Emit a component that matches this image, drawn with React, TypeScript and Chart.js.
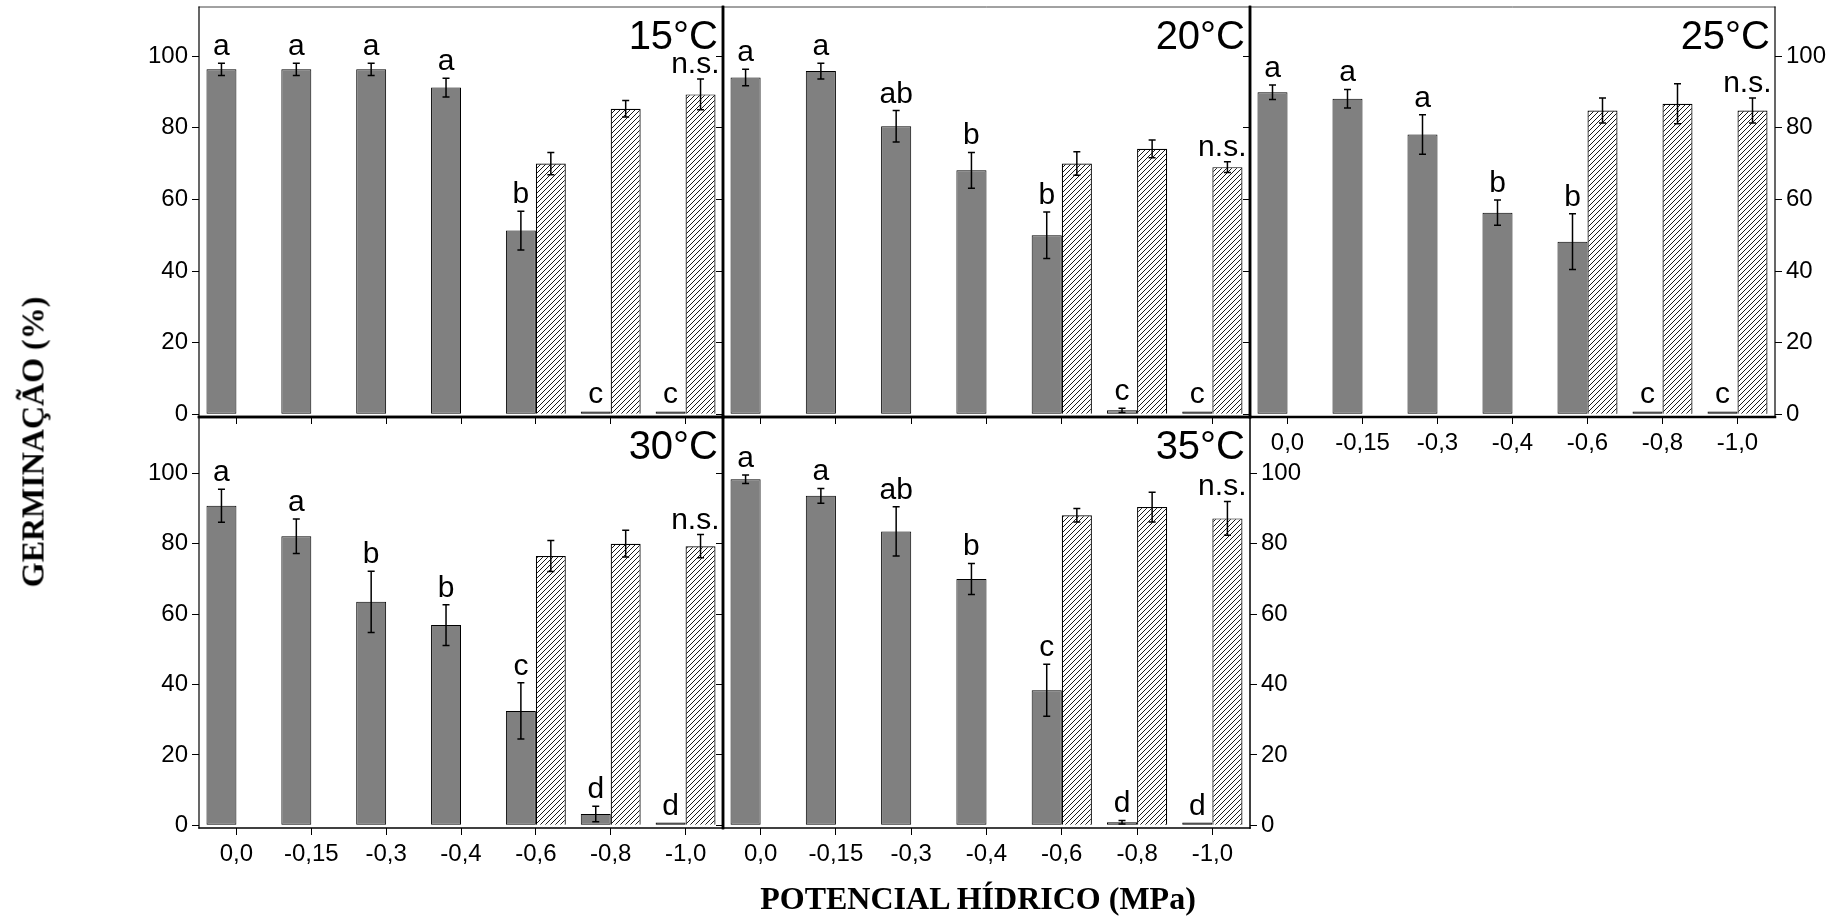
import React, { useEffect, useRef } from 'react';
import { Chart, registerables } from 'chart.js';

Chart.register(...registerables);

// Water potential treatments (MPa), shared by every panel
const potentials = ['0,0', '-0,15', '-0,3', '-0,4', '-0,6', '-0,8', '-1,0'];
const percentTicks = [0, 20, 40, 60, 80, 100];

// 15 °C
const germ15 = [96.3, 96.3, 96.3, 91.2, 51.3, 0.8, 0.8];
const germ15Err = [1.7, 1.7, 1.7, 2.6, 5.4, 0, 0];
const recov15 = [null, null, null, null, 70.0, 85.3, 89.3];
const recov15Err = [0, 0, 0, 0, 3.1, 2.3, 4.3];
const letters15 = ['a', 'a', 'a', 'a', 'b', 'c', 'c'];

// 20 °C
const germ20 = [94.0, 95.8, 80.4, 68.1, 50.0, 1.1, 0.8];
const germ20Err = [2.3, 2.2, 4.4, 5.0, 6.5, 0.6, 0];
const recov20 = [null, null, null, null, 70.0, 74.1, 69.0];
const recov20Err = [0, 0, 0, 0, 3.3, 2.5, 1.5];
const letters20 = ['a', 'a', 'ab', 'b', 'b', 'c', 'c'];

// 25 °C
const germ25 = [89.9, 88.1, 78.1, 56.3, 48.2, 0.8, 0.8];
const germ25Err = [2.0, 2.6, 5.5, 3.5, 7.8, 0, 0];
const recov25 = [null, null, null, null, 84.8, 86.7, 84.8];
const recov25Err = [0, 0, 0, 0, 3.5, 5.6, 3.5];
const letters25 = ['a', 'a', 'a', 'b', 'b', 'c', 'c'];

// 30 °C
const germ30 = [90.8, 82.1, 63.5, 56.9, 32.5, 3.2, 0.8];
const germ30Err = [4.7, 4.9, 8.7, 5.8, 8.0, 2.2, 0];
const recov30 = [null, null, null, null, 76.5, 80.0, 79.3];
const recov30Err = [0, 0, 0, 0, 4.4, 3.8, 3.3];
const letters30 = ['a', 'a', 'b', 'b', 'c', 'd', 'd'];

// 35 °C
const germ35 = [98.3, 93.6, 83.5, 70.0, 38.4, 0.9, 0.8];
const germ35Err = [1.2, 2.1, 7.0, 4.4, 7.4, 0.5, 0];
const recov35 = [null, null, null, null, 88.1, 90.4, 87.2];
const recov35Err = [0, 0, 0, 0, 1.9, 4.2, 4.8];
const letters35 = ['a', 'a', 'ab', 'b', 'c', 'd', 'd'];

const W = 1843;
const H = 918;
const SANS = "'Liberation Sans', Arial, sans-serif";
const SERIF = "'Liberation Serif', 'Times New Roman', serif";
const AXIS_W = 70; // room for y tick labels
const AXIS_H = 45; // room for x tick labels

type Row = { top: number; bottom: number; min: number; max: number };
type Frame = { top: number; left: number; right: number; bottom: number };
type PanelSpec = {
  temp: string;
  germ: number[];
  germErr: number[];
  recov: (number | null)[];
  recovErr: number[];
  letters: string[];
  col: [number, number];
  row: Row;
  leftLabels: boolean;
  rightAxis: boolean;
  xLabels: boolean;
  frame: Frame;
};

const ROW1: Row = { top: 7, bottom: 417, min: -0.75, max: 113.7 };
const ROW2: Row = { top: 417, bottom: 828, min: -0.75, max: 116 };
const COL1: [number, number] = [199, 723];
const COL2: [number, number] = [723, 1250];
const COL3: [number, number] = [1250, 1775];

const panels: PanelSpec[] = [
  {
    temp: '15°C', germ: germ15, germErr: germ15Err, recov: recov15, recovErr: recov15Err, letters: letters15,
    col: COL1, row: ROW1, leftLabels: true, rightAxis: false, xLabels: false,
    frame: { top: 1, left: 1.2, right: 2.5, bottom: 2.5 },
  },
  {
    temp: '20°C', germ: germ20, germErr: germ20Err, recov: recov20, recovErr: recov20Err, letters: letters20,
    col: COL2, row: ROW1, leftLabels: false, rightAxis: false, xLabels: false,
    frame: { top: 1, left: 2.5, right: 2.5, bottom: 2.5 },
  },
  {
    temp: '25°C', germ: germ25, germErr: germ25Err, recov: recov25, recovErr: recov25Err, letters: letters25,
    col: COL3, row: ROW1, leftLabels: false, rightAxis: true, xLabels: true,
    frame: { top: 1, left: 2.5, right: 1.2, bottom: 2.5 },
  },
  {
    temp: '30°C', germ: germ30, germErr: germ30Err, recov: recov30, recovErr: recov30Err, letters: letters30,
    col: COL1, row: ROW2, leftLabels: true, rightAxis: false, xLabels: true,
    frame: { top: 2.5, left: 1.2, right: 2.5, bottom: 1.5 },
  },
  {
    temp: '35°C', germ: germ35, germErr: germ35Err, recov: recov35, recovErr: recov35Err, letters: letters35,
    col: COL2, row: ROW2, leftLabels: false, rightAxis: true, xLabels: true,
    frame: { top: 2.5, left: 2.5, right: 1.5, bottom: 1.5 },
  },
];

// Diagonal "///" hatch used for the recovery bars
function makeHatch(): CanvasPattern | string {
  const s = 5;
  const c = document.createElement('canvas');
  c.width = s;
  c.height = s;
  const g = c.getContext('2d');
  if (!g) return '#fff';
  g.fillStyle = '#fff';
  g.fillRect(0, 0, s, s);
  g.strokeStyle = '#000';
  g.lineWidth = 0.9;
  g.beginPath();
  g.moveTo(0, s);
  g.lineTo(s, 0);
  g.moveTo(-1, 1);
  g.lineTo(1, -1);
  g.moveTo(s - 1, s + 1);
  g.lineTo(s + 1, s - 1);
  g.stroke();
  return g.createPattern(c, 'repeat') || '#fff';
}

// Pin an axis box to a fixed thickness so the plot area lands exactly where the layout puts it
const fixSize = (horizontal: boolean, size: number) => (s: any) => {
  if (horizontal) s.height = size;
  else s.width = size;
  s.paddingLeft = 0;
  s.paddingRight = 0;
  s.paddingTop = 0;
  s.paddingBottom = 0;
};

function buildConfig(p: PanelSpec, hatch: CanvasPattern | string): any {
  const [left, right] = p.col;
  const { top, bottom, min, max } = p.row;
  const tickFont = { family: SANS, size: 24 };

  const mainPos: 'left' | 'right' = p.rightAxis ? 'right' : 'left';
  const mainLabels = p.rightAxis || p.leftLabels;
  const leftW = !p.rightAxis && p.leftLabels ? AXIS_W : 0;
  const rightW = p.rightAxis ? AXIS_W : 0;
  const bottomH = p.xLabels ? AXIS_H : 0;

  const yAxis = (position: 'left' | 'right', showLabels: boolean) => ({
    type: 'linear',
    position,
    min,
    max,
    afterBuildTicks: (s: any) => {
      s.ticks = percentTicks.map((v) => ({ value: v }));
    },
    afterFit: fixSize(false, showLabels ? AXIS_W : 0),
    grid: { drawOnChartArea: false, drawTicks: true, tickLength: 7, color: '#000', lineWidth: 1 },
    border: { display: false },
    ticks: {
      display: showLabels,
      autoSkip: false,
      font: tickFont,
      color: '#000',
      padding: 4,
      callback: (v: any) => String(v),
    },
  });

  const scales: any = {
    x: {
      type: 'category',
      offset: true,
      grid: { offset: false, drawOnChartArea: false, drawTicks: true, tickLength: 7, color: '#000', lineWidth: 1 },
      border: { display: false },
      ticks: { display: p.xLabels, font: tickFont, color: '#000', padding: 5, maxRotation: 0, autoSkip: false },
      afterFit: fixSize(true, bottomH),
    },
    y: yAxis(mainPos, mainLabels),
  };
  if (p.rightAxis) scales.yl = yAxis('left', false);

  const marks = {
    id: 'marks',
    afterDatasetsDraw(chart: any) {
      const ctx = chart.ctx;
      const ys = chart.scales.y;
      const m0 = chart.getDatasetMeta(0);
      const m1 = chart.getDatasetMeta(1);
      ctx.save();
      ctx.strokeStyle = '#000';
      ctx.lineWidth = 1.5;
      const errBar = (x: number, v: number, e: number) => {
        if (!e) return;
        const y1 = ys.getPixelForValue(v + e);
        const y2 = ys.getPixelForValue(v - e);
        ctx.beginPath();
        ctx.moveTo(x, y1);
        ctx.lineTo(x, y2);
        ctx.moveTo(x - 3.5, y1);
        ctx.lineTo(x + 3.5, y1);
        ctx.moveTo(x - 3.5, y2);
        ctx.lineTo(x + 3.5, y2);
        ctx.stroke();
      };
      p.germ.forEach((v, j) => errBar(m0.data[j].x, v, p.germErr[j]));
      p.recov.forEach((v, j) => {
        if (v != null) errBar(m1.data[j].x, v, p.recovErr[j]);
      });

      // significance letters over the germination bars
      ctx.fillStyle = '#000';
      ctx.font = `30px ${SANS}`;
      ctx.textAlign = 'center';
      ctx.textBaseline = 'alphabetic';
      p.letters.forEach((t, j) => {
        const yTop = ys.getPixelForValue(p.germ[j] + p.germErr[j]);
        ctx.fillText(t, m0.data[j].x, yTop - 8);
      });

      const last = p.recov.length - 1;
      const el = m1.data[last];
      const rv = p.recov[last] as number;
      ctx.textAlign = 'right';
      ctx.fillText('n.s.', el.x + el.width / 2 + 4, ys.getPixelForValue(rv + p.recovErr[last]) - 6);

      ctx.font = `40px ${SANS}`;
      ctx.fillText(p.temp, chart.chartArea.right - 5, chart.chartArea.top + 42);
      ctx.restore();
    },
  };

  const frame = {
    id: 'frame',
    afterDraw(chart: any) {
      const { left: l, right: r, top: t, bottom: b } = chart.chartArea;
      const ctx = chart.ctx;
      const f = p.frame;
      const line = (x1: number, y1: number, x2: number, y2: number, w: number, c: string) => {
        ctx.beginPath();
        ctx.lineWidth = w;
        ctx.strokeStyle = c;
        ctx.moveTo(x1, y1);
        ctx.lineTo(x2, y2);
        ctx.stroke();
      };
      ctx.save();
      ctx.lineCap = 'square';
      line(l, t, r, t, f.top, f.top < 2 ? '#444' : '#000');
      line(l, t, l, b, f.left, '#000');
      line(r, t, r, b, f.right, '#000');
      line(l, b, r, b, f.bottom, '#000');
      ctx.restore();
    },
  };

  return {
    type: 'bar',
    data: {
      labels: potentials,
      datasets: [
        {
          data: p.germ,
          backgroundColor: '#808080',
          borderColor: '#000',
          borderWidth: 1,
          borderSkipped: false,
          categoryPercentage: 0.8,
          barPercentage: 1,
        },
        {
          data: p.recov,
          backgroundColor: hatch,
          borderColor: '#000',
          borderWidth: 1.2,
          categoryPercentage: 0.8,
          barPercentage: 1,
        },
      ],
    },
    options: {
      responsive: false,
      maintainAspectRatio: false,
      animation: false,
      devicePixelRatio: 1,
      events: [],
      layout: {
        padding: {
          left: left - leftW,
          top,
          right: W - right - rightW,
          bottom: H - bottom - bottomH,
        },
      },
      plugins: { legend: { display: false }, tooltip: { enabled: false }, title: { display: false } },
      scales,
    },
    plugins: [marks, frame],
  };
}

function PanelChart({ spec }: { spec: PanelSpec }) {
  const ref = useRef<HTMLCanvasElement>(null);
  useEffect(() => {
    if (!ref.current) return;
    const chart = new Chart(ref.current, buildConfig(spec, makeHatch()));
    return () => chart.destroy();
  }, [spec]);
  return (
    <canvas
      ref={ref}
      width={W}
      height={H}
      style={{ position: 'absolute', left: 0, top: 0, width: W, height: H }}
    />
  );
}

export default function App() {
  return (
    <div
      style={{
        position: 'fixed',
        left: 0,
        top: 0,
        width: W,
        height: H,
        background: '#fff',
        overflow: 'hidden',
      }}
    >
      {panels.map((p) => (
        <PanelChart key={p.temp} spec={p} />
      ))}
      <div
        style={{
          position: 'absolute',
          left: 33,
          top: 442,
          transform: 'translate(-50%, -50%) rotate(-90deg)',
          whiteSpace: 'nowrap',
          fontFamily: SERIF,
          fontWeight: 'bold',
          fontSize: 32,
          color: '#000',
        }}
      >
        GERMINAÇÃO (%)
      </div>
      <div
        style={{
          position: 'absolute',
          left: 978,
          top: 898,
          transform: 'translate(-50%, -50%)',
          whiteSpace: 'nowrap',
          fontFamily: SERIF,
          fontWeight: 'bold',
          fontSize: 32,
          color: '#000',
        }}
      >
        POTENCIAL HÍDRICO (MPa)
      </div>
    </div>
  );
}
